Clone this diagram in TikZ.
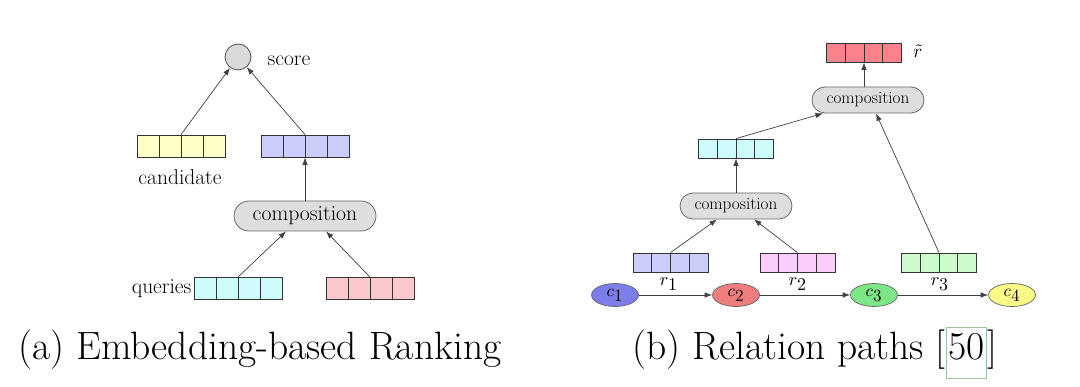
\RequirePackage{fix-cm}
\documentclass[tikz,border=0pt]{standalone}
\usepackage{fontspec}
\usetikzlibrary{arrows.meta,calc,shapes.geometric,shapes.misc}
\definecolor{vyel}{RGB}{255,255,200}
\definecolor{vblue}{RGB}{205,205,252}
\definecolor{vcyan}{RGB}{205,250,250}
\definecolor{vred}{RGB}{250,200,205}
\definecolor{rred}{RGB}{250,130,140}
\definecolor{rpink}{RGB}{250,205,250}
\definecolor{rgreen}{RGB}{205,250,205}
\definecolor{cone}{RGB}{125,125,235}
\definecolor{ctwo}{RGB}{240,125,125}
\definecolor{cthree}{RGB}{125,230,135}
\definecolor{cfour}{RGB}{250,250,135}
\definecolor{pillfill}{RGB}{222,222,222}
\definecolor{pilldraw}{RGB}{105,105,105}
\definecolor{citebox}{RGB}{150,200,150}
\newcommand{\mymathlbl}[2]{\scalebox{#1}{$#2$}}
\begin{document}
\begin{tikzpicture}[x=1pt,y=-1pt,
  fourcells/.style={path picture={
    \foreach \k in {1,2,3}{
      \draw[black!80,line width=0.8pt]
        ($(path picture bounding box.north west)!\k/4!(path picture bounding box.north east)$) --
        ($(path picture bounding box.south west)!\k/4!(path picture bounding box.south east)$);}}},
  lvec/.style={rectangle,draw=black!80,line width=0.8pt,minimum width=88pt,minimum height=22pt,inner sep=0pt,fourcells},
  rvec/.style={rectangle,draw=black!80,line width=0.8pt,minimum width=75pt,minimum height=19pt,inner sep=0pt,fourcells},
  lpill/.style={rounded rectangle,fill=pillfill,draw=pilldraw,line width=0.8pt,minimum width=142pt,minimum height=30pt,inner sep=0pt,font=\fontsize{21.7}{24}\selectfont},
  rpill/.style={rounded rectangle,fill=pillfill,draw=pilldraw,line width=0.8pt,minimum width=112pt,minimum height=26pt,inner sep=0pt,font=\fontsize{17.2}{19}\selectfont},
  small/.style={font=\fontsize{21.5}{24}\selectfont,inner sep=2pt},
  mlabel/.style={inner sep=1pt},
  ent/.style={ellipse,draw=black!60,line width=0.7pt,minimum width=47pt,minimum height=23pt,inner sep=0pt},
  captext/.style={font=\fontsize{39.5}{44}\selectfont,inner sep=0pt},
  arr/.style={-{Latex[length=7.5pt,width=5.5pt]},draw=black!75,line width=0.7pt}]
\useasboundingbox[fill=white] (0,0) rectangle (1080,387);

% ---- (a) ----
\node[circle,minimum size=26pt,inner sep=0pt,fill=gray!30,draw=gray!60!black,line width=0.8pt] (score) at (238,57) {};
\node[small] (scorelbl) at (289,61) {score};
\node[lvec,fill=vyel] (cand) at (181,146) {};
\node[small] (candlbl) at (180,177) {candidate};
\node[lvec,fill=vblue] (qv) at (305,146) {};
\node[lpill] (comp) at (305,216) {composition};
\node[lvec,fill=vcyan] (qry) at (238,288.5) {};
\node[small,anchor=east] (qlbl) at (qry.west) {queries};
\node[lvec,fill=vred] (rel) at (370,288.5) {};

\draw[arr] (cand.north) -- (score);
\draw[arr] (qv.north) -- (score);
\draw[arr] (comp.north) -- (qv.south);
\draw[arr] (qry.north) -- ([xshift=-19pt]comp.south);
\draw[arr] (rel.north) -- ([xshift=21pt]comp.south);

% ---- (b) ----
\node[rvec,fill=rred] (rt) at (864,52.5) {};
\node[mlabel] (rtl) at (918,51) {\mymathlbl{1.9}{\tilde{r}}};
\node[rpill] (tcomp) at (868,100) {composition};
\node[rvec,fill=vcyan] (cv) at (736,148.5) {};
\node[rpill] (bcomp) at (736,206) {composition};
\node[rvec,fill=vblue] (r1v) at (670.5,262.5) {};
\node[rvec,fill=rpink] (r2v) at (797.5,262.5) {};
\node[rvec,fill=rgreen] (r3v) at (939,262.5) {};
\node[ent,fill=cone] (c1) at (615,295) {\mymathlbl{1.7}{c_{\textstyle 1}}};
\node[ent,fill=ctwo] (c2) at (736,295) {\mymathlbl{1.7}{c_{\textstyle 2}}};
\node[ent,fill=cthree] (c3) at (874,295) {\mymathlbl{1.7}{c_{\textstyle 3}}};
\node[ent,fill=cfour] (c4) at (1012,295) {\mymathlbl{1.7}{c_{\textstyle 4}}};
\node[mlabel] (r1l) at (669,284) {\mymathlbl{1.8}{r_{\textstyle 1}}};
\node[mlabel] (r2l) at (798,284) {\mymathlbl{1.8}{r_{\textstyle 2}}};
\node[mlabel] (r3l) at (940,284) {\mymathlbl{1.8}{r_{\textstyle 3}}};

\draw[arr] (tcomp.north -| rt) -- (rt.south);
\draw[arr] (bcomp.north) -- (cv.south);
\draw[arr] (cv.north) -- ([xshift=-45pt]tcomp.south);
\draw[arr] (r3v.north) -- ([xshift=8pt]tcomp.south);
\draw[arr] (r1v.north) -- ([xshift=-19pt]bcomp.south);
\draw[arr] (r2v.north) -- ([xshift=18pt]bcomp.south);
\draw[arr] (c1) -- (c2);
\draw[arr] (c2) -- (c3);
\draw[arr] (c3) -- (c4);

% ---- captions ----
\node[captext,anchor=base] (capa) at (260,360) {(a) Embedding-based Ranking};
\node[captext,anchor=base west] (capb) at (632,360) {(b) Relation paths [};
\node[captext,anchor=base west,draw=citebox,line width=0.8pt,inner xsep=2pt,inner ysep=0pt,text height=33pt,text depth=18pt] (cite) at (capb.base east) {50};
\node[captext,anchor=base west] (capbr) at (cite.base east) {]};
\end{tikzpicture}
\end{document}
